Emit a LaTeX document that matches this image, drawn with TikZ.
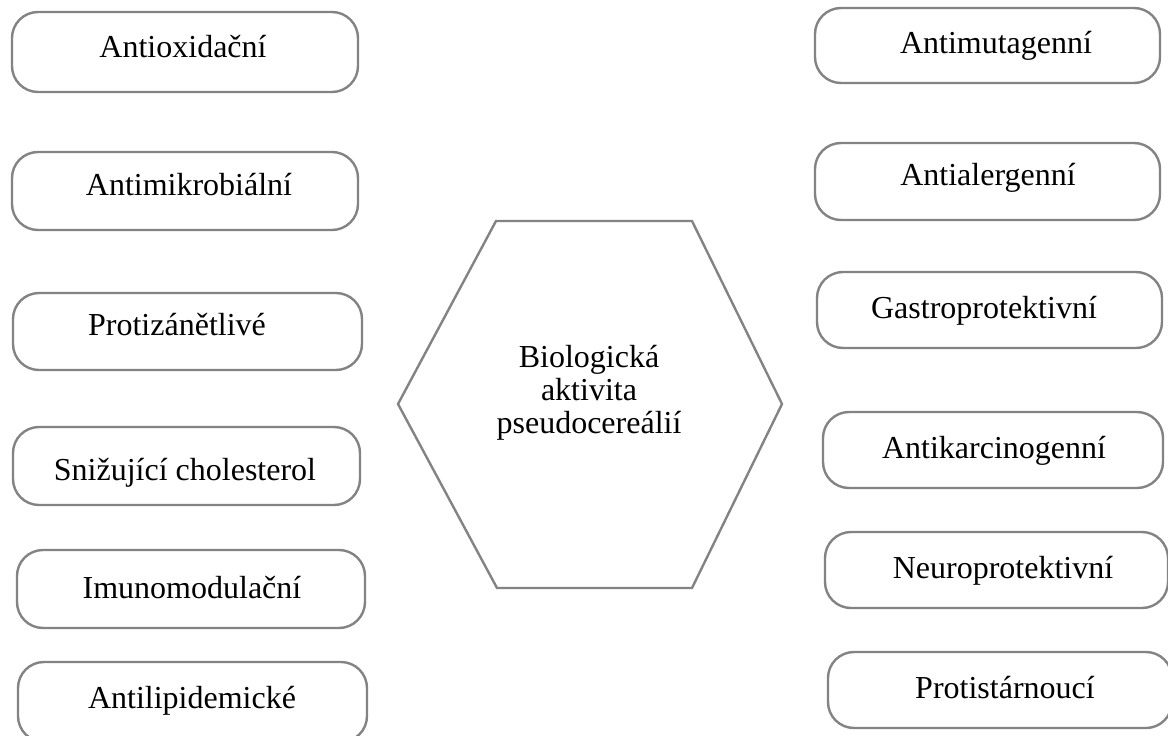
\documentclass[tikz,border=0pt]{standalone}
\usepackage{fontspec}
\setmainfont{Liberation Serif}
\definecolor{linegray}{HTML}{838383}
\newcommand\pbox[8]{%
  \node[pill, minimum width={#4-#2}, minimum height={#5-#3}] (#1) at ({(#2+#4)/2},{(#3+#5)/2}) {};
  \node[lbl] (#1t) at (#6,#7) {#8};
}
\begin{document}
\begin{tikzpicture}[x=1pt,y=-1pt,
  pill/.style={draw=linegray, line width=2.4pt, rounded corners=26pt, fill=white, inner sep=0pt, outer sep=0pt},
  lbl/.style={anchor=base, inner sep=0pt, font=\fontsize{32}{35}\selectfont},
  hexline/.style={draw=linegray, line width=2.4pt, line join=miter},
  hextext/.style={align=center, inner sep=0pt, font=\fontsize{32}{33}\selectfont}]
\useasboundingbox (0,0) rectangle (1168,736);
\pbox{L1}{12}{12}{358}{92}{183}{57}{Antioxidační}
\pbox{L2}{12}{152}{358}{230}{189}{195}{Antimikrobiální}
\pbox{L3}{13}{293}{362}{370}{177}{335}{Protizánětlivé}
\pbox{L4}{13}{427}{360}{505}{185}{480}{Snižující cholesterol}
\pbox{L5}{17}{550}{365}{628}{192}{598}{Imunomodulační}
\pbox{L6}{18}{662}{367}{742}{192}{708}{Antilipidemické}
\pbox{R1}{815}{8}{1160}{83}{996}{53}{Antimutagenní}
\pbox{R2}{815}{143}{1160}{220}{988}{185}{Antialergenní}
\pbox{R3}{817}{272}{1162}{348}{984}{318}{Gastroprotektivní}
\pbox{R4}{823}{412}{1163}{488}{994}{458}{Antikarcinogenní}
\pbox{R5}{825}{532}{1168}{608}{1003}{578}{Neuroprotektivní}
\pbox{R6}{828}{652}{1172}{728}{1005}{698}{Protistárnoucí}
\coordinate (h1) at (496,221);
\coordinate (h2) at (692,221);
\coordinate (h3) at (782,404);
\coordinate (h4) at (692,588);
\coordinate (h5) at (497,588);
\coordinate (h6) at (398,404);
\draw[hexline] (h1) -- (h2) -- (h3) -- (h4) -- (h5) -- (h6) -- cycle;
\node[hextext] (hex) at (589,393) {Biologická\\aktivita\\pseudocereálií};
\end{tikzpicture}
\end{document}
